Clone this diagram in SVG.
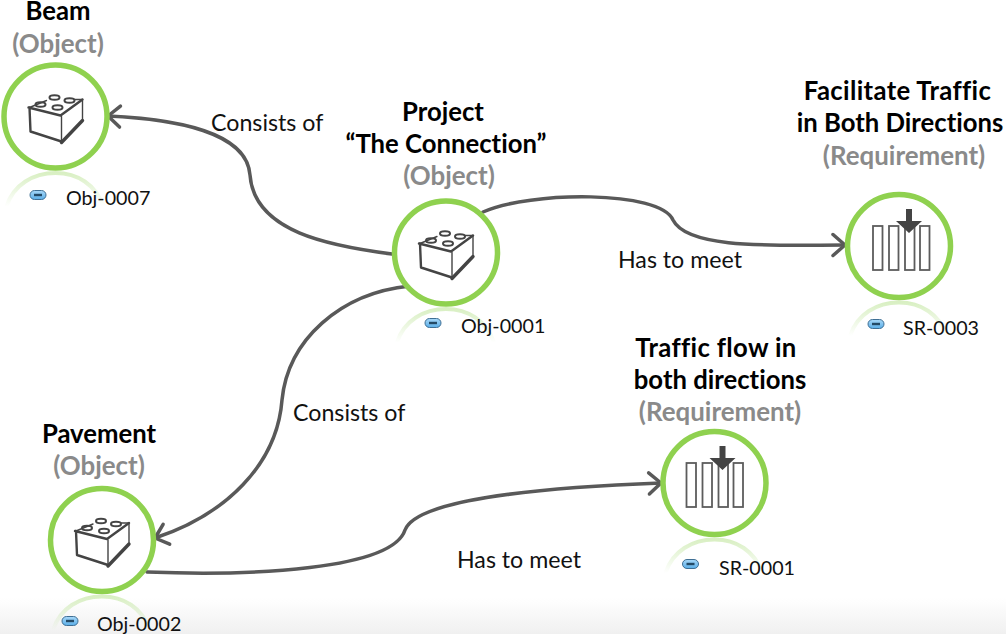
<svg xmlns="http://www.w3.org/2000/svg" width="1006" height="634" viewBox="0 0 1006 634">
<style>
text{font-family:"Lato","Open Sans","Liberation Sans",sans-serif;fill:#111;font-variant-ligatures:none}
.t{font-size:25.700px;font-weight:700;text-anchor:middle;fill:#000}
.w{letter-spacing:.35px}
.k{font-size:25.900px;font-weight:700;text-anchor:middle;fill:#8a8a8a}
.l{font-size:23.200px}
.i{font-size:19.700px}
.c{fill:none;stroke:#595959;stroke-width:3.500;stroke-linecap:round}
.ring{fill:#fff;stroke:#8fd14f;stroke-width:5.500}
.g{fill:none;stroke:#444;stroke-linecap:round;stroke-linejoin:round}
</style>
<defs>
<linearGradient id="bg" x1="0" y1="0" x2="0" y2="1"><stop offset="0" stop-color="#fff"/><stop offset="1" stop-color="#f0f0f0"/></linearGradient>
<linearGradient id="fade" x1="0" y1="0" x2="0" y2="1"><stop offset="0" stop-color="#8fd14f" stop-opacity=".34"/><stop offset="1" stop-color="#8fd14f" stop-opacity="0"/></linearGradient>
<linearGradient id="pill" x1="0" y1="0" x2="0" y2="1"><stop offset="0" stop-color="#a8d8f8"/><stop offset="1" stop-color="#5aaee8"/></linearGradient>
<marker id="a" markerUnits="userSpaceOnUse" markerWidth="28" markerHeight="28" refX="23" refY="12" orient="auto" viewBox="0 0 28 24"><path d="M11 1.500L23 12L11 22.500" fill="none" stroke="#595959" stroke-width="3.500" stroke-linecap="round" stroke-linejoin="round"/></marker>
<g id="node-shell">
<path d="M-49 90C-42 68 -22 56.500 0 56.500C22 56.500 40 68 48 90" fill="none" stroke="url(#fade)" stroke-width="4"/>
<circle r="51.500" class="ring"/>
</g>
<g id="brick">
<path d="M-26-9L-27 14L6 26L27 3L27-17L6-1Z" fill="#fff" stroke="none"/>
<path class="g" stroke-width="2.400" d="M-27-9L5-1L27-17M-26-9L-25 15L6 25"/>
<path class="g" stroke-width="3.400" d="M6 26L27 4"/>
<path class="g" stroke-width="1.400" d="M6 0L6 25M27-16L27 4M-26-9L-9-16M19-17L27-17"/>
<g class="g" stroke-width="2"><ellipse cx="-15" cy="-12" rx="5" ry="2.300"/><ellipse cx="-1" cy="-19" rx="5" ry="2.300"/><ellipse cx="14" cy="-16" rx="5" ry="2.300"/><ellipse cx="2" cy="-9" rx="5" ry="2.300"/></g>
</g>
<g id="req">
<g fill="none" stroke="#5c5c5c" stroke-width="1.800"><rect x="-26" y="-20" width="9.500" height="44"/><rect x="-10" y="-20" width="9.500" height="44"/><rect x="6" y="-20" width="9.500" height="44"/><rect x="21" y="-20" width="9.500" height="44"/></g>
<path d="M7-37H13V-25H23L10-13L-3-25H7Z" fill="#444"/>
</g>
<g id="pill-i"><rect x="-8" y="-4.500" width="16" height="9" rx="4.500" fill="url(#pill)" stroke="#3f6f94" stroke-width="1"/><rect x="-4" y="-1.200" width="8" height="2.400" fill="#244a66"/></g>
</defs>
<rect y="598" width="1006" height="36" fill="url(#bg)"/>
<g id="connectors">
<path class="c" marker-end="url(#a)" d="M392 254C330 246 254 232 250 175C247 132 175 119 108 116"/>
<path class="c" marker-end="url(#a)" d="M410 286C340 293 288 340 282 400C277 465 225 515 155 538"/>
<path class="c" marker-end="url(#a)" d="M483 212C530 191 660 190 673 220C688 250 780 245 845 245"/>
<path class="c" marker-end="url(#a)" d="M147 572C250 576 392 570 405 530C418 495 580 486 661 483"/>
</g>
<g id="labels"><text class="l" x="211" y="131">Consists of</text><text class="l" x="293" y="421">Consists of</text><text class="l" x="618" y="268">Has to meet</text><text class="l" x="457" y="568">Has to meet</text></g>
<g id="beam"><use href="#node-shell" x="55.500" y="116.500"/><use href="#brick" x="55.500" y="116.500"/><use href="#pill-i" x="38" y="195"/><text class="i" x="66" y="205">Obj-0007</text><text class="t" x="58" y="20">Beam</text><text class="k" x="58" y="53">(Object)</text></g>
<g id="project"><use href="#node-shell" x="446" y="252.500"/><use href="#brick" x="446" y="252.500"/><use href="#pill-i" x="433" y="323"/><text class="i" x="461" y="333">Obj-0001</text><text class="t" x="443" y="121">Project</text><text class="t" x="446" y="153">“The Connection”</text><text class="k" x="449" y="185">(Object)</text></g>
<g id="facilitate"><use href="#node-shell" x="899" y="246"/><use href="#req" x="899" y="246"/><use href="#pill-i" x="876" y="324"/><text class="i" x="903" y="335">SR-0003</text><text class="t w" x="897.500" y="100">Facilitate Traffic</text><text class="t" x="900" y="132">in Both Directions</text><text class="k" x="904" y="165">(Requirement)</text></g>
<g id="flow"><use href="#node-shell" x="714.500" y="483"/><use href="#req" x="712.500" y="483"/><use href="#pill-i" x="690.500" y="564"/><text class="i" x="719" y="575">SR-0001</text><text class="t w" x="716" y="357">Traffic flow in</text><text class="t" x="720" y="389">both directions</text><text class="k" x="720" y="421">(Requirement)</text></g>
<g id="pavement"><use href="#node-shell" x="102" y="540"/><use href="#brick" x="102" y="540"/><use href="#pill-i" x="70" y="621"/><text class="i" x="97" y="631">Obj-0002</text><text class="t" x="99" y="443">Pavement</text><text class="k" x="99" y="475">(Object)</text></g>
</svg>
